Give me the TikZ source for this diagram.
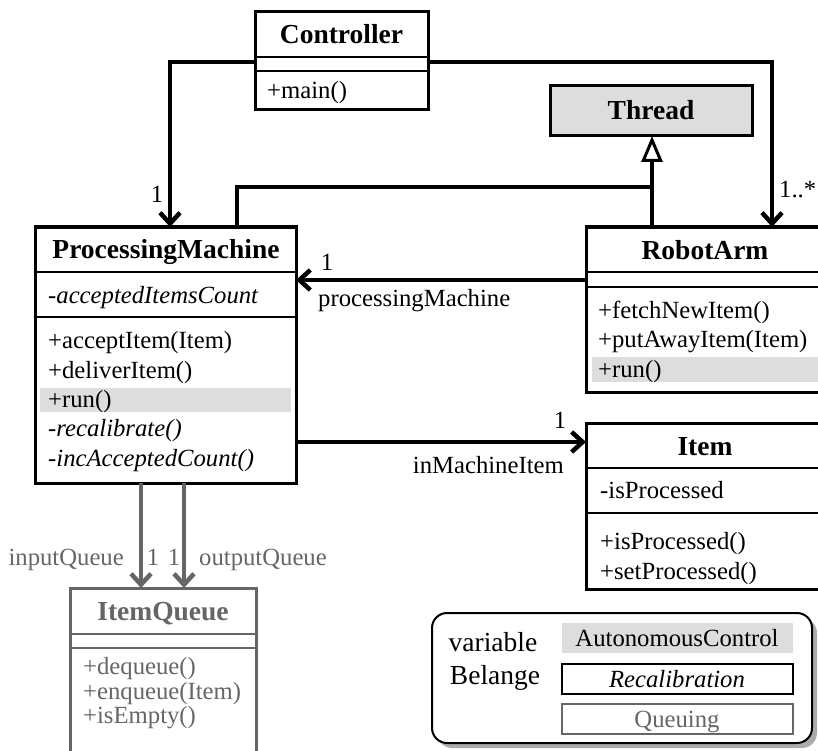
\documentclass[tikz,border=0pt]{standalone}
\usepackage{fontspec}
\setmainfont{Liberation Serif}
\usetikzlibrary{arrows.meta}
\definecolor{hl}{HTML}{DDDDDD}
\definecolor{qgray}{HTML}{666666}
\newcommand\bodyfont{\fontsize{24.7}{29}\selectfont}
\newcommand\titlefont{\fontsize{27.5}{32}\selectfont\bfseries}
\newcommand\legfont{\fontsize{27.5}{32}\selectfont}
\begin{document}
\begin{tikzpicture}[x=1pt,y=-1pt,
  classbox/.style={draw, line width=3pt, inner sep=0pt, outer sep=0pt, anchor=north west, fill=white},
  sepline/.style={line width=2pt},
  title/.style={font=\titlefont, inner sep=0pt, text height=18pt, text depth=0pt},
  mrow/.style={font=\bodyfont, inner sep=0pt, anchor=west, text height=16pt, text depth=0pt},
  lbl/.style={font=\bodyfont, inner sep=0pt, text height=16pt, text depth=0pt},
  assoc/.style={line width=4.5pt, -{Straight Barb[length=11pt,width=20pt]}},
  inherit/.style={line width=4.5pt, -{Triangle[length=26pt,width=21pt,fill=white,line width=3pt]}},
  hlbar/.style={fill=hl, draw=none},
  legbox/.style={minimum width=231pt, minimum height=30pt, inner sep=0pt, outer sep=0pt, text height=16pt, text depth=0pt, font=\bodyfont},
  leglbl/.style={font=\legfont, inner sep=0pt, text height=18pt, text depth=0pt}
]
\useasboundingbox (0,0) rectangle (818,751);

% ---------- class boxes ----------
\node[classbox, minimum width=173pt, minimum height=98pt] (ctrl) at (255,12) {};
\node[classbox, fill=hl, minimum width=202pt, minimum height=50pt] (thread) at (550,86) {};
\node[classbox, minimum width=261pt, minimum height=256pt] (pm) at (35,227) {};
\node[classbox, minimum width=238pt, minimum height=165pt] (ra) at (586,227) {};
\node[classbox, minimum width=238pt, minimum height=166pt] (item) at (586,423) {};
\node[classbox, draw=qgray, minimum width=186pt, minimum height=182pt] (iq) at (70,588) {};

% highlighted rows
\fill[hl] (40,388) rectangle (291,412);
\fill[hl] (592,357) rectangle (822,382);

% ---------- Controller ----------
\draw[sepline] (ctrl.west |- 0,57) -- (ctrl.east |- 0,57);
\draw[sepline] (ctrl.west |- 0,71) -- (ctrl.east |- 0,71);
\node[title] (ctrlT) at (341.5,34.5) {Controller};
\node[mrow] (ctrlO1) at (267,91) {+main()};

% ---------- Thread ----------
\node[title] (threadT) at (651,111) {Thread};

% ---------- ProcessingMachine ----------
\draw[sepline] (pm.west |- 0,272) -- (pm.east |- 0,272);
\draw[sepline] (pm.west |- 0,317) -- (pm.east |- 0,317);
\node[title] (pmT) at (166,249.5) {ProcessingMachine};
\node[mrow] (pmA1) at (48,295) {-\textit{acceptedItemsCount}};
\node[mrow] (pmO1) at (48,340) {+acceptItem(Item)};
\node[mrow] (pmO2) at (48,370) {+deliverItem()};
\node[mrow] (pmO3) at (48,399) {+run()};
\node[mrow] (pmO4) at (48,428) {-\textit{recalibrate()}};
\node[mrow] (pmO5) at (48,458) {-\textit{incAcceptedCount()}};

% ---------- RobotArm ----------
\draw[sepline] (ra.west |- 0,272) -- (ra.east |- 0,272);
\draw[sepline] (ra.west |- 0,287) -- (ra.east |- 0,287);
\node[title] (raT) at (705,250) {RobotArm};
\node[mrow] (raO1) at (598,310) {+fetchNewItem()};
\node[mrow] (raO2) at (598,339) {+putAwayItem(Item)};
\node[mrow] (raO3) at (598,369) {+run()};

% ---------- Item ----------
\draw[sepline] (item.west |- 0,468) -- (item.east |- 0,468);
\draw[sepline] (item.west |- 0,513) -- (item.east |- 0,513);
\node[title] (itemT) at (705,446) {Item};
\node[mrow] (itemA1) at (600,490) {-isProcessed};
\node[mrow] (itemO1) at (600,541) {+isProcessed()};
\node[mrow] (itemO2) at (600,571) {+setProcessed()};

% ---------- ItemQueue ----------
\draw[sepline, qgray] (iq.west |- 0,634) -- (iq.east |- 0,634);
\draw[sepline, qgray] (iq.west |- 0,648) -- (iq.east |- 0,648);
\node[title, text=qgray] (iqT) at (163,611) {ItemQueue};
\node[mrow, text=qgray] (iqO1) at (83,666) {+dequeue()};
\node[mrow, text=qgray] (iqO2) at (83,691) {+enqueue(Item)};
\node[mrow, text=qgray] (iqO3) at (83,715) {+isEmpty()};

% ---------- connectors ----------
\draw[assoc] (ctrl.west |- 0,62) -| (pm.north -| 170,0);
\node[lbl] (m1) at (157,195) {1};
\draw[assoc] (ctrl.east |- 0,62) -| (ra.north -| 772,0);
\node[lbl, anchor=west] (m2) at (779,190) {1..*};

\draw[inherit] (ra.north -| 652,0) -- (thread.south -| 652,0);
\coordinate (join) at (652,187);
\draw[line width=4.5pt] (pm.north -| 237,0) |- (join);

\draw[assoc] (ra.west |- 0,280) -- (pm.east |- 0,280);
\node[lbl] (m3) at (327,262) {1};
\node[lbl, anchor=west] (r1) at (318,298) {processingMachine};

\draw[assoc] (pm.east |- 0,442) -- (item.west |- 0,442);
\node[lbl] (m4) at (560,420) {1};
\node[lbl, anchor=east] (r2) at (564,465) {inMachineItem};

\draw[assoc, qgray] (pm.south -| 141,0) -- (iq.north -| 141,0);
\draw[assoc, qgray] (pm.south -| 184,0) -- (iq.north -| 184,0);
\node[lbl, anchor=east, text=qgray] (r3) at (124,557) {inputQueue};
\node[lbl, text=qgray] (m5) at (153,557) {1};
\node[lbl, text=qgray] (m6) at (174,557) {1};
\node[lbl, anchor=west, text=qgray] (r4) at (199,557) {outputQueue};

% ---------- legend ----------
\fill[gray!65, rounded corners=15pt] (437,618) rectangle (817,748);
\node[draw, line width=2pt, fill=white, rounded corners=15pt, anchor=north west,
      minimum width=380pt, minimum height=130pt, inner sep=0pt, outer sep=0pt] (legend) at (432,613) {};
\node[leglbl] (lv) at (493,642) {variable};
\node[leglbl] (lb) at (495,675) {Belange};
\node[legbox, fill=hl] (lauto) at (677,638) {AutonomousControl};
\node[legbox, draw, line width=2pt] (lrecal) at (677,679) {\textit{Recalibration}};
\node[legbox, draw=qgray, line width=2pt, text=qgray] (lqueue) at (677,719) {Queuing};
\end{tikzpicture}
\end{document}
